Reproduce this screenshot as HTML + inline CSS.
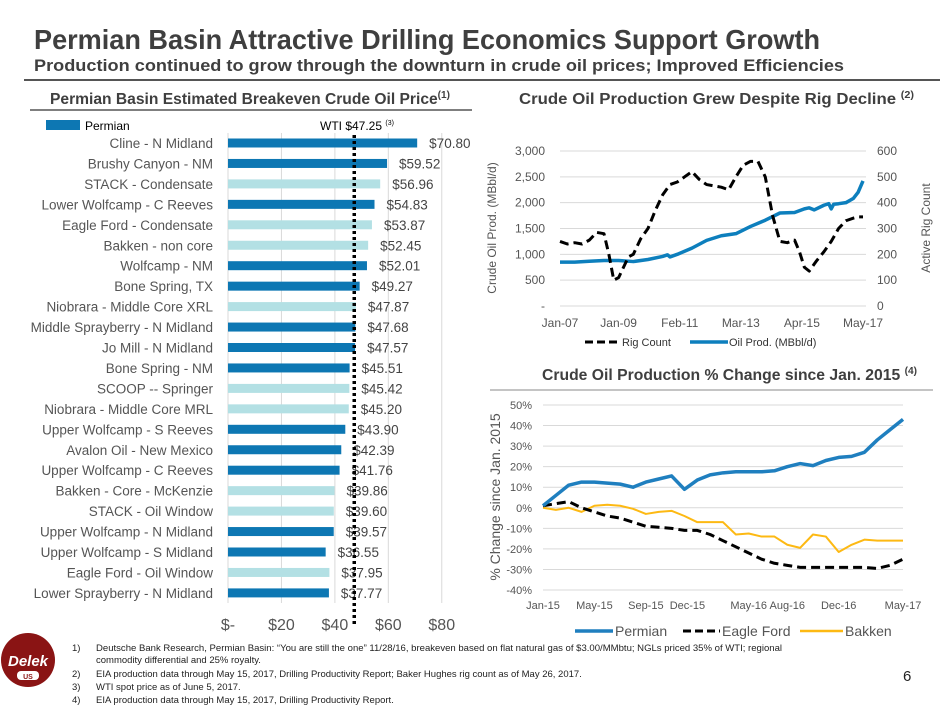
<!DOCTYPE html>
<html><head><meta charset="utf-8"><style>
body{margin:0;background:#fff;}
svg{display:block;font-family:"Liberation Sans",sans-serif;}
</style></head><body>
<svg id="s" width="940" height="705" viewBox="0 0 940 705" xmlns="http://www.w3.org/2000/svg">
<text x="34" y="49" font-size="28" font-weight="bold" fill="#3f3f3f" textLength="786" lengthAdjust="spacingAndGlyphs">Permian Basin Attractive Drilling Economics Support Growth</text>
<text x="34" y="71" font-size="17" font-weight="bold" fill="#3f3f3f" textLength="810" lengthAdjust="spacingAndGlyphs">Production continued to grow through the downturn in crude oil prices; Improved Efficiencies</text>
<line x1="24" y1="80" x2="940" y2="80" stroke="#555" stroke-width="2"/>
<text x="50" y="104" font-size="15.5" font-weight="bold" fill="#3f3f3f" textLength="400" lengthAdjust="spacingAndGlyphs">Permian Basin Estimated Breakeven Crude Oil Price<tspan font-size="10" dy="-6">(1)</tspan></text>
<line x1="30" y1="110" x2="472" y2="110" stroke="#555" stroke-width="1.5"/>
<text x="519" y="104" font-size="15.5" font-weight="bold" fill="#3f3f3f" textLength="395" lengthAdjust="spacingAndGlyphs">Crude Oil Production Grew Despite Rig Decline <tspan font-size="10" dy="-6">(2)</tspan></text>
<text x="542" y="380" font-size="15.5" font-weight="bold" fill="#3f3f3f" textLength="375" lengthAdjust="spacingAndGlyphs">Crude Oil Production % Change since Jan. 2015 <tspan font-size="10" dy="-6">(4)</tspan></text>
<line x1="490" y1="390" x2="933" y2="390" stroke="#888" stroke-width="1"/>
<g id="bars"></g>
<g id="top"></g>
<g id="bot"></g>
<g>
<circle cx="28" cy="660" r="27" fill="#8a1414"/>
<text x="28" y="666" font-size="15" font-weight="bold" fill="#fff" text-anchor="middle" font-style="italic">Delek</text>
<rect x="17" y="671" width="22" height="9" rx="4" fill="#fff"/>
<text x="28" y="679" font-size="7" font-weight="bold" fill="#8a1414" text-anchor="middle">US</text>
</g>
<g font-size="9.5" fill="#222">
<text x="72" y="651">1)</text><text x="96" y="651" textLength="686" lengthAdjust="spacingAndGlyphs">Deutsche Bank Research, Permian Basin: “You are still the one” 11/28/16, breakeven based on flat natural gas of $3.00/MMbtu; NGLs priced 35% of WTI; regional</text>
<text x="96" y="663">commodity differential and 25% royalty.</text>
<text x="72" y="677">2)</text><text x="96" y="677">EIA production data through May 15, 2017, Drilling Productivity Report; Baker Hughes rig count as of May 26, 2017.</text>
<text x="72" y="690">3)</text><text x="96" y="690">WTI spot price as of June 5, 2017.</text>
<text x="72" y="703">4)</text><text x="96" y="703">EIA production data through May 15, 2017, Drilling Productivity Report.</text>
</g>
<text x="903" y="681" font-size="15" fill="#222">6</text>
</svg>
<script>
const NS='http://www.w3.org/2000/svg';
function mk(p,t,a,txt){const e=document.createElementNS(NS,t);for(const k in a)e.setAttribute(k,a[k]);if(txt!==undefined)e.textContent=txt;p.appendChild(e);return e;}

// ---- Bar chart data
const barCategories=["Cline - N Midland","Brushy Canyon - NM","STACK - Condensate","Lower Wolfcamp - C Reeves","Eagle Ford - Condensate","Bakken - non core","Wolfcamp - NM","Bone Spring, TX","Niobrara - Middle Core XRL","Middle Sprayberry - N Midland","Jo Mill - N Midland","Bone Spring - NM","SCOOP -- Springer","Niobrara - Middle Core MRL","Upper Wolfcamp - S Reeves","Avalon Oil - New Mexico","Upper Wolfcamp - C Reeves","Bakken - Core - McKenzie","STACK - Oil Window","Upper Wolfcamp - N Midland","Upper Wolfcamp - S Midland","Eagle Ford  - Oil Window","Lower Sprayberry - N Midland"];
const barValues=[70.80,59.52,56.96,54.83,53.87,52.45,52.01,49.27,47.87,47.68,47.57,45.51,45.42,45.20,43.90,42.39,41.76,39.86,39.60,39.57,36.55,37.95,37.77];
const barIsPermian=[1,1,0,1,0,0,1,1,0,1,1,1,0,0,1,1,1,0,0,1,1,0,1];
const barTicks=[0,20,40,60,80];
const barTickLabels=["$-","$20","$40","$60","$80"];
const wtiPrice=47.25;

const B=document.getElementById('bars');
const bx=v=>228+v*2.672;
const by=i=>143+i*20.45;
barTicks.forEach((t,i)=>{
  let l=mk(B,'line',{x1:bx(t),x2:bx(t),y1:133,y2:603,stroke:'#d9d9d9'});
  
  
  let tx=mk(B,'text',{x:bx(t),y:630,'font-size':16,fill:'#555','text-anchor':'middle'},barTickLabels[i]);
  
  
});
barCategories.forEach((c,i)=>{
  let r=mk(B,'rect',{x:bx(0),y:by(i)-4.5,width:bx(barValues[i])-bx(0),height:9,fill:barIsPermian[i]?'#0d77b3':'#b3e0e4'});
  
  
  let t=mk(B,'text',{x:213,y:by(i)+5,'font-size':13.5,fill:'#555','text-anchor':'end'},c);
  
  
  let v=mk(B,'text',{x:bx(barValues[i])+12,y:by(i)+5,'font-size':13.5,fill:'#444'},'$'+barValues[i].toFixed(2));
  
  
});
let w=mk(B,'line',{x1:bx(wtiPrice),x2:bx(wtiPrice),y1:135,y2:624,stroke:'#000','stroke-width':3.5,'stroke-dasharray':'3 3'});


let wl=mk(B,'text',{x:320,y:130,'font-size':12,fill:'#000'},'WTI $47.25 ');


mk(wl,'tspan',{'font-size':7,dy:-5},'(3)');
let lg=mk(B,'rect',{x:46,y:120,width:34,height:10,fill:'#0d77b3'});


let lgt=mk(B,'text',{x:85,y:130,'font-size':12,fill:'#000'},'Permian');



// ---- Top-right chart data (month index from Jan-07)
const rigMonths=[0,3,6,9,12,15,18,20,22,24,26,28,30,33,36,39,42,45,48,51,54,57,60,63,66,69,72,75,78,81,84,87,90,93,96,98,99,100,102,105,108,111,114,117,120,122,124];
const rigCount=[250,240,245,240,255,285,280,200,100,110,150,190,200,260,300,370,430,470,480,500,520,490,470,465,460,450,500,545,560,560,500,350,250,245,255,210,180,150,135,175,210,250,300,330,340,345,345];
const oilMonths=[0,6,12,18,24,30,36,42,44,45,48,54,60,66,72,78,84,90,96,100,101,102,104,108,110,111,112,114,117,120,122,124];
const oilProd=[850,850,865,880,880,860,900,960,990,950,1000,1120,1270,1360,1400,1540,1660,1800,1810,1880,1890,1900,1860,1950,1980,1880,1970,1980,2000,2080,2200,2420];
const topLeftTicks=[0,500,1000,1500,2000,2500,3000];
const topLeftLabels=["-","500","1,000","1,500","2,000","2,500","3,000"];
const topRightTicks=[0,100,200,300,400,500,600];
const topXTicks=[0,24,49,74,99,124];
const topXLabels=["Jan-07","Jan-09","Feb-11","Mar-13","Apr-15","May-17"];

const T=document.getElementById('top');
const tx=m=>560+m*(303/124);
const tyL=v=>306-v*(155/3000);
const tyR=v=>306-v*(155/600);
topLeftTicks.forEach((t,i)=>{
  let l=mk(T,'line',{x1:560,x2:866,y1:tyL(t),y2:tyL(t),stroke:'#d9d9d9'});
  
  
  let a=mk(T,'text',{x:545,y:tyL(t)+4,'font-size':12,fill:'#555','text-anchor':'end'},topLeftLabels[i]);
  
  
});
topRightTicks.forEach(t=>{
  let a=mk(T,'text',{x:877,y:tyR(t)+4,'font-size':12,fill:'#555'},String(t));
  
  
});
topXTicks.forEach((m,i)=>{
  let a=mk(T,'text',{x:tx(m),y:327,'font-size':12,fill:'#555','text-anchor':'middle'},topXLabels[i]);
  
  
});
let op=mk(T,'polyline',{points:oilMonths.map((m,i)=>tx(m)+','+tyL(oilProd[i])).join(' '),fill:'none',stroke:'#0d7fbd','stroke-width':3.5,'stroke-linejoin':'round'});


let rc=mk(T,'polyline',{points:rigMonths.map((m,i)=>tx(m)+','+tyR(rigCount[i])).join(' '),fill:'none',stroke:'#000','stroke-width':3,'stroke-dasharray':'9 5','stroke-linejoin':'round'});


let yl=mk(T,'text',{transform:'translate(496,228) rotate(-90)','font-size':12,fill:'#555','text-anchor':'middle'},'Crude Oil Prod. (MBbl/d)');


let yr=mk(T,'text',{transform:'translate(930,228) rotate(-90)','font-size':12,fill:'#555','text-anchor':'middle'},'Active Rig Count');


let l1=mk(T,'line',{x1:585,x2:620,y1:342,y2:342,stroke:'#000','stroke-width':3,'stroke-dasharray':'8 4'});


let l1t=mk(T,'text',{x:622,y:346,'font-size':11,fill:'#333'},'Rig Count');


let l2=mk(T,'line',{x1:690,x2:728,y1:342,y2:342,stroke:'#0d7fbd','stroke-width':3.5});


let l2t=mk(T,'text',{x:729,y:346,'font-size':11,fill:'#333'},'Oil Prod. (MBbl/d)');



// ---- Bottom chart data (monthly Jan-15 .. May-17)
const permianPct=[1,6,11,12.5,12.5,12,11.5,10,12.5,14,15.5,9,13.5,16,17,17.5,17.5,17.5,18,20,21.5,20.5,23,24.5,25,27,33,38,43];
const eagleFordPct=[1,2,3,0,-2,-4,-5,-7,-9,-9.5,-10,-11,-11,-13,-16,-19,-22,-25,-27,-28,-29,-29,-29,-29,-29,-29,-29.5,-28,-25];
const bakkenPct=[0,-1,0,-2,1,1.5,1,-0.5,-3,-2,-1.5,-4,-7,-7,-7,-13,-12.5,-14,-14,-18,-19.5,-13,-14,-21.5,-18,-15.5,-16,-16,-16];
const botYTicks=[-40,-30,-20,-10,0,10,20,30,40,50];
const botXTicks=[0,4,8,11,16,19,23,28];
const botXLabels=["Jan-15","May-15","Sep-15","Dec-15","May-16","Aug-16","Dec-16","May-17"];

const G=document.getElementById('bot');
const gx=m=>543+m*(360/28);
const gy=v=>405+(50-v)*(185/90);
botYTicks.forEach(t=>{
  let l=mk(G,'line',{x1:543,x2:903,y1:gy(t),y2:gy(t),stroke:'#d9d9d9'});
  
  
  let a=mk(G,'text',{x:532,y:gy(t)+4,'font-size':11,fill:'#555','text-anchor':'end'},t+'%');
  
  
});
botXTicks.forEach((m,i)=>{
  let a=mk(G,'text',{x:gx(m)+(i==3?3:0),y:609,'font-size':11,fill:'#555','text-anchor':'middle'},botXLabels[i]);
  
  
});
const pts=arr=>arr.map((v,i)=>gx(i)+','+gy(v)).join(' ');
let sb=mk(G,'polyline',{points:pts(bakkenPct),fill:'none',stroke:'#fdb913','stroke-width':2,'stroke-linejoin':'round'});


let se=mk(G,'polyline',{points:pts(eagleFordPct),fill:'none',stroke:'#000','stroke-width':3,'stroke-dasharray':'9 5','stroke-linejoin':'round'});


let sp=mk(G,'polyline',{points:pts(permianPct),fill:'none',stroke:'#1f7fbf','stroke-width':3.5,'stroke-linejoin':'round'});


let gl=mk(G,'text',{transform:'translate(500,497) rotate(-90)','font-size':14,fill:'#555','text-anchor':'middle'},'% Change since Jan. 2015');


const legs=[[575,613,'#1f7fbf',3.5,'','Permian','legend-permian'],[683,720,'#000',3,'8 4','Eagle Ford','legend-eagle-ford'],[800,843,'#fdb913',2.5,'','Bakken','legend-bakken']];
legs.forEach(L=>{
  let s=mk(G,'line',{x1:L[0],x2:L[1],y1:631,y2:631,stroke:L[2],'stroke-width':L[3],'stroke-dasharray':L[4]||'none'});
  
  
  let t=mk(G,'text',{x:L[1]+2,y:636,'font-size':14,fill:'#555'},L[5]);
  
  
});
</script>
</body></html>
